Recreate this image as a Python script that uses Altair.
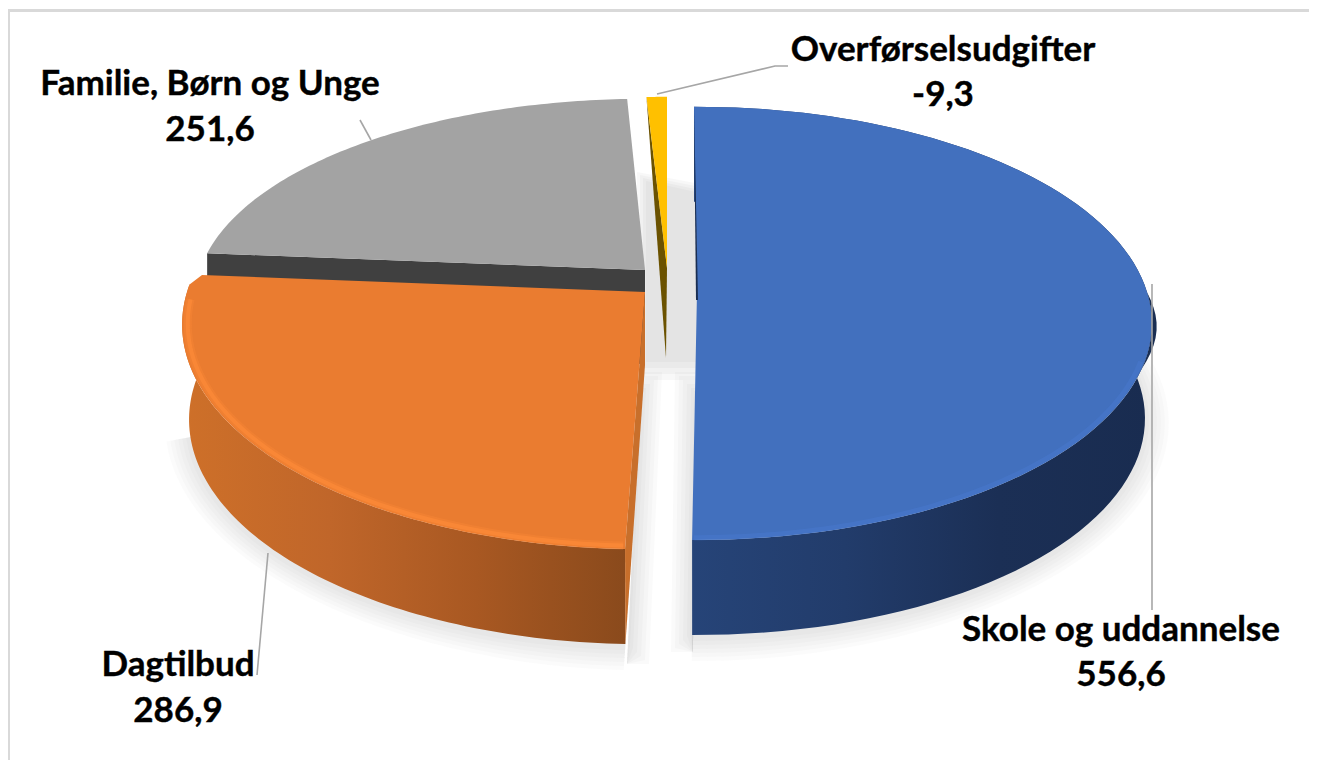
import math
import altair as alt
import pandas as pd

# ---- data ----
categories = ["Skole og uddannelse", "Dagtilbud", "Familie, Børn og Unge", "Overførselsudgifter"]
values = [556.6, 286.9, 251.6, 9.3]
value_labels = ["556,6", "286,9", "251,6", "-9,3"]

# ---- styling / layout ----
W, H = 1301, 752
OFF = 8
top_col = ["#4270BE", "#EA7C30", "#A3A3A3", "#FFC000"]
centres = [(697, 292), (645, 292), (645, 270), (667, 268)]
radii = [(450, 212), (458, 220), (445, 196), (445, 196)]
# small corrections (degrees) of each slice's start and end as drawn in perspective
angle_tweak = [(-0.44, -0.9), (0.7, 0.0), (0.0, 0.4), (0.0, 0.0)]
DEPTH = 95
K = 0.145


def project(i, ang, r=1.0):
    cx, cy = centres[i]
    A, B = radii[i]
    u = r * math.sin(ang)
    v = -r * math.cos(ang)
    s = 1.0 / (1.0 - K * v)
    return cx + A * u * s, cy + B * v * s


total = sum(values)
spans = []
acc = 0.0
for v, (t0, t1) in zip(values, angle_tweak):
    spans.append(((acc / total * 360 + t0) * math.pi / 180, ((acc + v) / total * 360 + t1) * math.pi / 180))
    acc += v


def arc_pts(i, a0, a1, n=90, r=1.0):
    return [project(i, a0 + (a1 - a0) * j / n, r) for j in range(n + 1)]


def lower(i, pts):
    cx = centres[i][0]
    return [(cx + (x - cx) * 0.985, y + DEPTH) for x, y in pts]


def frame(pts, name):
    return pd.DataFrame({"x": [p[0] - OFF for p in pts], "y": [p[1] - OFF for p in pts],
                         "o": range(len(pts)), "name": name})


xs = alt.Scale(domain=[0, W], range=[0, W], nice=False, zero=False)
ys = alt.Scale(domain=[0, H], range=[0, H], nice=False, zero=False)


def poly(pts, name, fill, **kw):
    return alt.Chart(frame(pts, name)).mark_line(
        fill=fill, stroke=None, interpolate="linear-closed", **kw
    ).encode(
        x=alt.X("x:Q", scale=xs, axis=None),
        y=alt.Y("y:Q", scale=ys, axis=None),
        order="o:Q",
    )


def stroke_line(pts, name, color, width, **kw):
    return alt.Chart(frame(pts, name)).mark_line(
        stroke=color, strokeWidth=width, **kw
    ).encode(
        x=alt.X("x:Q", scale=xs, axis=None),
        y=alt.Y("y:Q", scale=ys, axis=None),
        order="o:Q",
    )


def h_grad(cols):
    n = len(cols) - 1
    return alt.Gradient(gradient="linear", x1=0, x2=1, y1=0, y2=0,
                        stops=[alt.GradientStop(offset=k / n, color=c) for k, c in enumerate(cols)])


def expand(pts, c, k):
    out = []
    for x, y in pts:
        d = math.hypot(x - c[0], y - c[1]) or 1.0
        out.append((x + (x - c[0]) / d * k, y + (y - c[1]) / d * k))
    return out


layers = []

# soft ground shadow under the two front slices
for i, start_trim, end_trim in ((0, 0.25, 0.0), (1, 0.0, 0.3)):
    a0, a1 = spans[i]
    c = (centres[i][0], centres[i][1] + 60)
    outline = lower(i, arc_pts(i, a0 + start_trim, a1 - end_trim))
    outline = [(centres[i][0], centres[i][1] + 60)] + outline
    for k in (24, 20, 16, 12, 8, 4):
        shifted = [(x, y + 2) for x, y in expand(outline, c, k)]
        layers.append(poly(shifted, f"shadow{i}{k}", "#808080", opacity=0.035))

# shadows beside the straight cut edges of the two front slices
for k in (22, 18, 14, 10, 6, 3):
    taper = 22 - k
    layers.append(poly([(695, 372 + taper), (693, 652), (693 - k, 652 - taper), (697 - k, 372 + taper)],
                       f"sb{k}", "#808080", opacity=0.04))
    layers.append(poly([(640, 372 + taper), (627, 664), (627 + k, 664 - taper), (640 + k, 372 + taper)],
                       f"so{k}", "#808080", opacity=0.04))

# shadow seen in the gap behind the slices
for k in (0, 3, 6, 9):
    layers.append(poly([(637 + k, 172 + k), (700, 184 + k), (700, 380 - 2 * k), (637 + k, 380 - 2 * k)],
                       f"gap{k}", "#808080", opacity=0.055))

# grey slice: dark cut wall, then top
a0, a1 = spans[2]
cx, cy = centres[2]
ge = arc_pts(2, a0, a1)
layers.append(poly([ge[0], (cx, cy), (cx, cy + 95), (ge[0][0], ge[0][1] + 24)], "greywall", "#404040"))
layers.append(poly(ge + [(cx, cy)], "greytop", top_col[2]))

# yellow slice: inner wall, then top
a0, a1 = spans[3]
cx, cy = centres[3]
yel = arc_pts(3, a0, a1, 10)
layers.append(poly([yel[0], (cx - 1, cy + 90), (cx, cy)], "yellowwall", "#6B5200"))
layers.append(poly(yel + [(cx, cy)], "yellowtop", top_col[3]))

# orange slice
a0, a1 = spans[1]
cx, cy = centres[1]
edge = arc_pts(1, a0, a1 - 3 * math.pi / 180)
edge.append((cx - 443, 275))
low = lower(1, edge[:-1])
layers.append(poly(edge[:-1] + low[::-1], "orangewall",
                   h_grad(["#CE7029", "#C0662A", "#A85822", "#8A4A1C"])))
layers.append(poly([(cx, cy), (cx, cy + 73), low[0], edge[0]], "orangecut", "#C86F2B"))
layers.append(poly(edge + [(cx, cy)], "orangetop", top_col[1]))
rim = arc_pts(1, a0 + 0.004, a1 - 0.12, r=0.988)
layers.append(stroke_line(rim, "orangerim1", "#FF8C38", 8, opacity=0.3, strokeCap="butt"))
layers.append(stroke_line(rim, "orangerim2", "#FF8C38", 4, opacity=0.6, strokeCap="butt"))

# blue slice
a0, a1 = spans[0]
cx, cy = centres[0]
edge = arc_pts(0, a0, a1)
low = lower(0, edge)
side = [p for p in edge if 288 <= p[1] <= 372 and p[0] > cx]
bulge = [(x + 5 * math.sin(math.pi * n / (len(side) - 1)), y) for n, (x, y) in enumerate(side)]
layers.append(poly(side + bulge[::-1], "bluebulge", "#1A2E52"))
layers.append(poly(edge + low[::-1], "bluewall",
                   h_grad(["#264478", "#223C6B", "#1B2F55", "#192C50"])))
layers.append(poly(edge + [(cx, cy)], "bluetop", top_col[0]))
layers.append(poly([edge[0], (cx + 1, cy + 8), (cx - 1, cy + 8)], "bluesliver", "#1A2E52"))
rim = arc_pts(0, a0 + 1.9, a1 - 0.003, r=0.992)
layers.append(stroke_line(rim, "bluerim", "#4A7AD0", 5, opacity=0.45, strokeCap="butt"))

# leader lines
leaders = [
    [(1152, 284), (1152, 610)],
    [(268, 553), (257, 675)],
    [(360, 120), (371, 140)],
    [(657, 94), (775, 66), (788, 66)],
]
for n, l in enumerate(leaders):
    layers.append(stroke_line(l, f"leader{n}", "#A6A6A6", 1.6))

# labels
label_pos = [(1121, 630, 675), (178, 665, 711), (210, 84, 130), (943, 50, 95)]
font = dict(font="Lato", fontWeight="bold", fontSize=35, color="#000000", align="center",
            baseline="middle", stroke="#000000", strokeWidth=0.4)
for name, val, (lx, y1, y2) in zip(categories, value_labels, label_pos):
    t = pd.DataFrame({"x": [lx - OFF, lx - OFF], "y": [y1 - OFF, y2 - OFF], "t": [name, val]})
    layers.append(alt.Chart(t).mark_text(**font).encode(
        x=alt.X("x:Q", scale=xs, axis=None),
        y=alt.Y("y:Q", scale=ys, axis=None),
        text="t:N",
    ))

# chart frame (top and left edges)
layers.append(stroke_line([(8.5, 760), (8.5, 10.5), (1309, 10.5)], "frame", "#D9D9D9", 3))

chart = alt.layer(*layers).properties(
    width=W, height=H, padding=0, autosize=alt.AutoSizeParams(type="none"), background="#FFFFFF"
).configure_view(stroke=None)

chart.save("out.html", embed_options={"renderer": "svg", "actions": False})
